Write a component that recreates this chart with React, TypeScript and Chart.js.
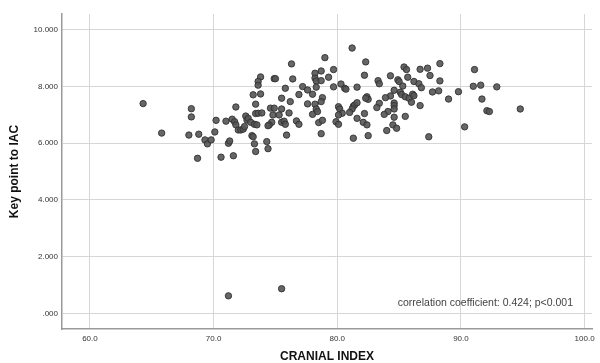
import React, { useEffect, useRef } from "react";
import { Chart, registerables } from "chart.js";

Chart.register(...registerables);

const cranialIndex: number[] = [
  64.3, 65.8, 68.2, 68.2, 68.0, 68.8, 69.3, 69.5, 69.8, 70.1, 70.2, 68.7, 70.6, 71.6, 71.2, 71.3, 71.8, 71.0, 71.5, 71.7, 71.8, 72.0, 72.2, 72.4, 72.5, 72.6, 72.7,
  76.3, 73.8, 73.6, 73.6, 74.9, 75.0, 76.4, 75.8, 77.2, 77.6, 73.2, 73.8, 75.5, 76.9, 76.2, 77.6, 73.4, 74.6, 74.9, 75.5, 73.4, 73.6, 73.9, 74.8, 75.3, 76.1, 72.8, 73.0, 73.3, 73.5, 74.7, 74.5, 74.4, 75.5, 75.7, 75.8, 76.7, 76.9, 73.1, 73.2, 74.3, 73.3, 74.4, 73.4, 75.9,
  71.2, 75.5,
  81.2, 79.0, 82.3, 78.2, 78.7, 79.7, 78.2, 78.3, 78.7, 79.3, 82.2, 83.3, 83.4, 78.3, 79.7, 80.3, 80.6, 80.7, 81.6, 78.0, 78.8, 78.7, 78.2, 78.3, 78.0, 78.4, 80.1, 80.2, 80.4, 80.1, 81.3, 81.4, 81.2, 81.0, 81.6, 82.4, 82.5, 82.3, 83.4, 83.2, 82.2, 81.6, 82.1, 82.4, 78.5, 78.8, 79.9, 80.1, 78.7, 82.5, 81.3,
  88.3, 85.4, 85.6, 86.7, 87.3, 87.5, 84.3, 84.9, 85.0, 85.7, 86.2, 86.6, 86.8, 88.3, 85.3, 84.6, 85.1, 85.2, 87.7, 88.2, 89.0, 84.3, 83.9, 85.5, 85.8, 86.1, 86.2, 86.0, 86.7, 84.6, 84.6, 84.6, 84.1, 83.8, 85.5, 84.6, 84.5, 84.8, 84.0, 87.4,
  91.1, 91.0, 91.6, 92.9, 89.8, 91.7, 92.1, 92.3, 90.3, 94.8,
];

const keyPointToIAC: number[] = [
  7.40, 6.36, 7.22, 6.93, 6.29, 6.32, 6.12, 5.98, 6.12, 6.40, 6.81, 5.47, 5.51, 5.56, 6.00, 6.08, 7.28, 6.78, 6.85, 6.76, 6.65, 6.47, 6.47, 6.50, 6.59, 6.96, 6.82,
  8.80, 8.34, 8.18, 8.05, 8.28, 8.28, 8.27, 7.94, 8.00, 7.88, 7.71, 7.74, 7.59, 7.72, 7.47, 7.39, 7.38, 7.24, 7.24, 7.21, 7.05, 7.06, 7.07, 7.00, 7.00, 7.07, 6.88, 6.74, 6.67, 6.65, 6.74, 6.65, 6.62, 6.74, 6.78, 6.67, 6.79, 6.67, 6.27, 6.23, 6.06, 5.98, 5.81, 5.71, 6.29,
  0.62, 0.87,
  9.36, 9.02, 8.87, 8.47, 8.55, 8.60, 8.30, 8.20, 8.21, 8.33, 8.40, 8.21, 8.10, 7.98, 7.99, 8.09, 7.94, 7.91, 7.98, 7.73, 7.61, 7.47, 7.38, 7.21, 7.02, 7.12, 7.29, 7.21, 7.06, 7.00, 7.31, 7.35, 7.21, 7.09, 7.43, 7.64, 7.55, 7.59, 7.41, 7.26, 7.05, 6.88, 6.74, 6.65, 6.73, 6.81, 6.76, 6.67, 6.34, 6.27, 6.18,
  8.81, 8.69, 8.60, 8.61, 8.65, 8.39, 8.38, 8.24, 8.18, 8.33, 8.18, 8.10, 7.96, 8.20, 8.02, 7.87, 7.80, 7.72, 7.81, 7.85, 7.56, 7.67, 7.61, 7.64, 7.59, 7.73, 7.68, 7.45, 7.33, 7.42, 7.33, 7.21, 7.12, 7.02, 6.95, 6.92, 6.65, 6.53, 6.45, 6.23,
  8.60, 8.01, 8.05, 7.99, 7.82, 7.56, 7.15, 7.12, 6.58, 7.21,
];

const xTicks: number[] = [60, 70, 80, 90, 100];
const yTicks: number[] = [0, 2, 4, 6, 8, 10];
const xTitle = "CRANIAL INDEX";
const yTitle = "Key point to IAC";
const noteText = "correlation coefficient: 0.424; p<0.001";

const FONT = "'Liberation Sans', Arial, sans-serif";

export default function App() {
  const ref = useRef<HTMLCanvasElement | null>(null);

  useEffect(() => {
    document.body.style.margin = "0";
    const canvas = ref.current;
    if (!canvas) return;

    const points = cranialIndex.map((x, i) => ({ x, y: keyPointToIAC[i] }));

    const bgPlugin = {
      id: "bg",
      beforeDraw(chart: any) {
        const { ctx, width, height } = chart;
        ctx.save();
        ctx.fillStyle = "#ffffff";
        ctx.fillRect(0, 0, width, height);
        ctx.restore();
      },
    };

    const notePlugin = {
      id: "note",
      afterDatasetsDraw(chart: any) {
        const { ctx, chartArea } = chart;
        ctx.save();
        ctx.font = `10.5px ${FONT}`;
        ctx.fillStyle = "#444";
        ctx.textAlign = "right";
        ctx.textBaseline = "middle";
        ctx.fillText(noteText, chartArea.right - 19, chartArea.bottom - 26);
        ctx.restore();
      },
    };

    const chart = new Chart(canvas, {
      type: "scatter",
      data: {
        datasets: [
          {
            data: points,
            backgroundColor: "rgba(85,85,85,0.9)",
            borderColor: "rgba(50,50,50,0.9)",
            borderWidth: 1,
            pointRadius: 3.2,
          },
        ],
      },
      options: {
        animation: false,
        responsive: false,
        layout: { padding: { left: 0, top: 14, right: 8, bottom: 0 } },
        plugins: { legend: { display: false }, tooltip: { enabled: false } },
        scales: {
          x: {
            type: "linear",
            min: 57.74,
            max: 100.6,
            afterBuildTicks: (s: any) => {
              s.ticks = xTicks.map((v) => ({ value: v }));
            },
            afterFit: (s: any) => {
              s.height = 34;
            },
            grid: { color: "#d6d6d6", lineWidth: 1, drawTicks: false },
            border: { color: "#999", width: 1.5 },
            ticks: {
              padding: 5,
              color: "#333",
              font: { size: 8, family: FONT },
              callback: (v: any) => Number(v).toFixed(1),
            },
            title: {
              display: true,
              text: xTitle,
              color: "#111",
              font: { size: 12, weight: "bold", family: FONT },
              padding: { top: 0, bottom: -1 },
            },
          },
          y: {
            type: "linear",
            min: -0.55,
            max: 10.56,
            afterBuildTicks: (s: any) => {
              s.ticks = yTicks.map((v) => ({ value: v }));
            },
            afterFit: (s: any) => {
              s.width = 62;
            },
            grid: { color: "#d6d6d6", lineWidth: 1, drawTicks: false },
            border: { color: "#999", width: 1.5 },
            ticks: {
              padding: 4,
              color: "#333",
              font: { size: 8, family: FONT },
              callback: (v: any) => (Number(v) === 0 ? ".000" : Number(v).toFixed(3)),
            },
            title: {
              display: true,
              text: yTitle,
              color: "#111",
              font: { size: 12, weight: "bold", family: FONT },
              padding: { top: 7, bottom: 0 },
            },
          },
        },
      },
      plugins: [bgPlugin, notePlugin],
    });

    return () => chart.destroy();
  }, []);

  return (
    <div style={{ width: 600, height: 363, position: "relative" }}>
      <canvas ref={ref} width={600} height={363} style={{ display: "block" }} />
    </div>
  );
}
